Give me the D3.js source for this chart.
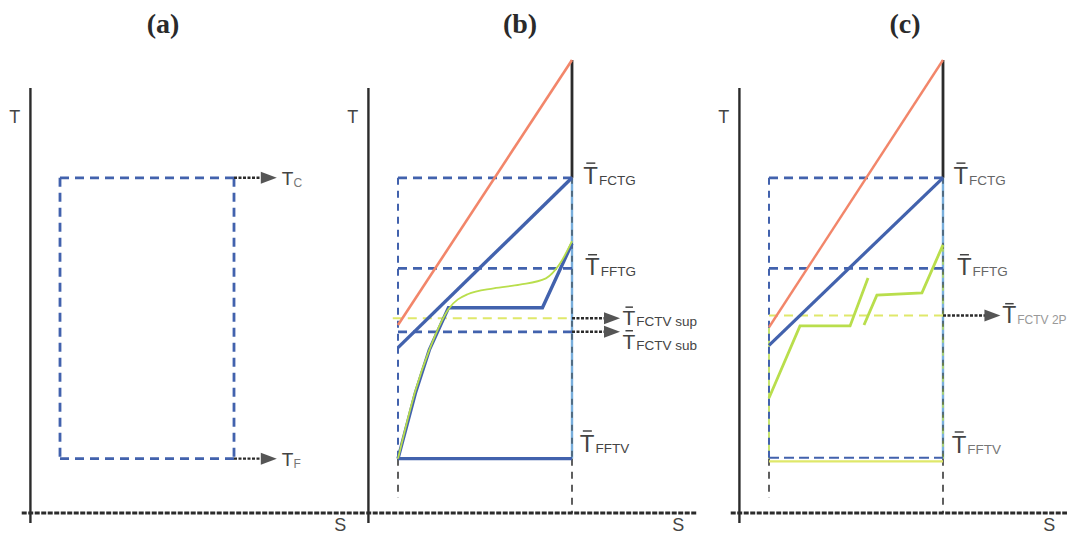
<!DOCTYPE html>
<html>
<head>
<meta charset="utf-8">
<script src="https://cdn.jsdelivr.net/npm/d3@7/dist/d3.min.js"></script>
<style>
  body { margin: 0; background: #fff; }
</style>
</head>
<body>
<div id="chart"></div>
<script>
// ---- data (S and T in arbitrary units: S=0 inlet, S=100 outlet) ----
const panelTitles = ["(a)", "(b)", "(c)"];

// (a) simple rectangle between hot and cold temperatures
const levelsA = [
  { sub: "C", t: 74 },
  { sub: "F", t: 12 }
];

// (b) mean temperatures
const levelsB = [
  { key: "FCTG", t: 74 },
  { key: "FFTG", t: 54 },
  { key: "FCTV sup", t: 43 },
  { key: "FCTV sub", t: 40 },
  { key: "FFTV", t: 12 }
];
const redB = [[0, 41.5], [100, 100]];
const blueB = [[0, 36.5], [100, 74]];
const processB = [[0, 12], [10, 26.5], [18, 36], [29, 45.3], [83, 45.3], [100, 59.5]];
const greenB = [[0, 12], [10, 27], [18, 36], [29, 45], [40, 48.3], [55, 49.6], [70, 50.4], [85, 51.8], [93, 55], [100, 60]];

// (c) two-phase case
const levelsC = [
  { key: "FCTG", t: 74 },
  { key: "FFTG", t: 54 },
  { key: "FCTV 2P", t: 43.6 },
  { key: "FFTV", t: 12 }
];
const redC = [[0, 41], [100, 100]];
const blueC = [[0, 37], [100, 74]];
const greenC1 = [[0, 25.4], [17.8, 41.3], [46.6, 41.3], [56.9, 51.9]];
const greenC2 = [[54.6, 41.5], [62, 48.1], [87.9, 48.6], [100, 59.2]];

// ---- layout ----
const W = 1067, H = 535;
const panelLeft = [60, 398, 769];   // pixel of S = 0 in each panel
const titleX = [163, 520, 905];
const sUnit = 1.74;

const colBlue = "#4262ad", colLightBlue = "#78aedc", colRed = "#f2866a",
      colGreen = "#b9de4c", colYellow = "#dfe86a", colInk = "#2b2b2b", colText = "#444";

const svg = d3.select("#chart")
  .append("svg")
  .attr("width", W)
  .attr("height", H)
  .style("font-family", "'Liberation Sans', Arial, sans-serif");

const y = d3.scaleLinear().domain([0, 100]).range([513, 60]);

function xScale(i) {
  const x0 = panelLeft[i];
  return d3.scaleLinear().domain([0, 100]).range([x0, x0 + 100 * sUnit]);
}

function lineGen(x, curve) {
  return d3.line()
    .x(function (d) { return x(d[0]); })
    .y(function (d) { return y(d[1]); })
    .curve(curve || d3.curveLinear);
}

function seg(g, x, a, b, style) {
  const l = g.append("line")
    .attr("x1", x(a[0])).attr("y1", y(a[1]))
    .attr("x2", x(b[0])).attr("y2", y(b[1]))
    .attr("stroke", style.stroke)
    .attr("stroke-width", style.width || 2);
  if (style.dash) l.attr("stroke-dasharray", style.dash);
  return l;
}

function arrow(g, x1, x2, yy) {
  g.append("line")
    .attr("x1", x1).attr("x2", x2 - 12).attr("y1", yy).attr("y2", yy)
    .attr("stroke", colInk).attr("stroke-width", 2.4)
    .attr("stroke-dasharray", "3,1.5");
  g.append("path")
    .attr("d", `M${x2 - 16},${yy - 6}L${x2},${yy}L${x2 - 16},${yy + 6}Z`)
    .attr("fill", "#555");
}

// T with overbar and subscript
function tLabel(g, xx, yy, sub, size, subSize, subColor) {
  const t = g.append("text")
    .attr("x", xx).attr("y", yy)
    .attr("fill", colText)
    .style("font-size", size + "px");
  t.append("tspan").text("T");
  t.append("tspan")
    .attr("dy", 1)
    .attr("dx", 1)
    .style("font-size", subSize + "px")
    .attr("fill", subColor || colText)
    .text(sub);
  g.append("line")
    .attr("x1", xx + 3).attr("x2", xx + size * 0.5)
    .attr("y1", yy - size * 0.86).attr("y2", yy - size * 0.86)
    .attr("stroke", colText).attr("stroke-width", 1.5);
}

function drawAxes(g, x) {
  // y axis
  g.append("line")
    .attr("x1", x(-17)).attr("x2", x(-17))
    .attr("y1", y(-2.2)).attr("y2", y(93.8))
    .attr("stroke", colInk).attr("stroke-width", 2.4);
  // x axis
  g.append("line")
    .attr("x1", x(-22)).attr("x2", x(172))
    .attr("y1", y(0)).attr("y2", y(0))
    .attr("stroke", colInk).attr("stroke-width", 3.2)
    .attr("stroke-dasharray", "5,1.5");
  g.append("text")
    .attr("x", x(-26)).attr("y", y(87.6) + 7)
    .attr("text-anchor", "middle")
    .attr("fill", colText)
    .style("font-size", "18px")
    .text("T");
  g.append("text")
    .attr("x", x(161)).attr("y", y(-2.2) + 8)
    .attr("text-anchor", "middle")
    .attr("fill", colText)
    .style("font-size", "18px")
    .text("S");
}

// titles
svg.selectAll(".title")
  .data(panelTitles)
  .join("text")
  .attr("class", "title")
  .attr("x", function (d, i) { return titleX[i]; })
  .attr("y", 33)
  .attr("text-anchor", "middle")
  .attr("fill", "#2a2a2a")
  .style("font-family", "'Liberation Serif', 'Times New Roman', serif")
  .style("font-weight", "bold")
  .style("font-size", "28px")
  .text(function (d) { return d; });

// ---------- panel (a) ----------
(function () {
  const x = xScale(0);
  const g = svg.append("g");
  drawAxes(g, x);
  const dash = "9,6";
  const tC = levelsA[0].t, tF = levelsA[1].t;
  seg(g, x, [0, tC], [0, tF], { stroke: colBlue, width: 2.8, dash: dash });
  seg(g, x, [100, tC], [100, tF], { stroke: colBlue, width: 2.8, dash: dash });
  levelsA.forEach(function (d) {
    seg(g, x, [0, d.t], [100, d.t], { stroke: colBlue, width: 2.8, dash: dash });
    arrow(g, x(100), x(124.6), y(d.t));
    const t = g.append("text")
      .attr("x", x(127.5)).attr("y", y(d.t) + 7)
      .attr("fill", colText)
      .style("font-size", "19px");
    t.append("tspan").text("T");
    t.append("tspan").attr("dy", 2).style("font-size", "12px").attr("fill", "#777").text(d.sub);
  });
})();

// ---------- panel (b) ----------
(function () {
  const x = xScale(1);
  const g = svg.append("g");
  drawAxes(g, x);
  const dash = "9,6";
  const lv = {};
  levelsB.forEach(function (d) { lv[d.key] = d.t; });

  // boundaries
  seg(g, x, [0, lv.FCTG], [0, lv.FFTV], { stroke: colBlue, width: 2, dash: "7,6" });
  seg(g, x, [0, lv.FFTV], [0, 3.3], { stroke: colInk, width: 1.5, dash: "7,6" });
  seg(g, x, [100, 100], [100, lv.FCTG], { stroke: colInk, width: 2.8 });
  seg(g, x, [100, lv.FCTG], [100, lv.FFTV], { stroke: colLightBlue, width: 2.4 });
  seg(g, x, [100, lv.FCTG], [100, lv.FFTV], { stroke: colInk, width: 1, dash: "6,7" });
  seg(g, x, [100, lv.FFTV], [100, 0], { stroke: colInk, width: 1.5, dash: "7,6" });

  // levels
  seg(g, x, [0, lv.FCTG], [100, lv.FCTG], { stroke: colBlue, width: 2.8, dash: dash });
  seg(g, x, [0, lv.FFTG], [100, lv.FFTG], { stroke: colBlue, width: 2.8, dash: dash });
  seg(g, x, [-3, lv["FCTV sup"]], [100, lv["FCTV sup"]], { stroke: colYellow, width: 2, dash: dash });
  seg(g, x, [0, lv["FCTV sub"]], [100, lv["FCTV sub"]], { stroke: colBlue, width: 2.8, dash: dash });
  seg(g, x, [0, lv.FFTV], [100, lv.FFTV], { stroke: colBlue, width: 3.4 });

  // process lines
  g.append("path").datum(redB).attr("d", lineGen(x))
    .attr("fill", "none").attr("stroke", colRed).attr("stroke-width", 2.6);
  g.append("path").datum(blueB).attr("d", lineGen(x))
    .attr("fill", "none").attr("stroke", colBlue).attr("stroke-width", 3.4);
  g.append("path").datum(processB).attr("d", lineGen(x))
    .attr("fill", "none").attr("stroke", colBlue).attr("stroke-width", 3.4);
  g.append("path").datum(greenB).attr("d", lineGen(x, d3.curveMonotoneX))
    .attr("fill", "none").attr("stroke", colGreen).attr("stroke-width", 1.8);

  // arrows + labels
  arrow(g, x(100), x(127.6), y(lv["FCTV sup"]));
  arrow(g, x(100), x(127.6), y(lv["FCTV sub"]));
  tLabel(g, x(106.5), y(lv.FCTG) + 6, "FCTG", 24, 13.5);
  tLabel(g, x(107.5), y(lv.FFTG) + 7, "FFTG", 24, 13.5);
  tLabel(g, x(129), y(lv["FCTV sup"]) + 7, "FCTV sup", 21, 13.5);
  tLabel(g, x(129), y(lv["FCTV sub"]) + 17, "FCTV sub", 21, 13.5);
  tLabel(g, x(104.5), y(lv.FFTV) - 7, "FFTV", 24, 13.5);
})();

// ---------- panel (c) ----------
(function () {
  const x = xScale(2);
  const g = svg.append("g");
  drawAxes(g, x);
  const dash = "9,6";
  const lv = {};
  levelsC.forEach(function (d) { lv[d.key] = d.t; });

  // boundaries
  seg(g, x, [0, lv.FFTV], [0, 41], { stroke: colGreen, width: 1.6 });
  seg(g, x, [0, lv.FCTG], [0, lv.FFTV], { stroke: colBlue, width: 2, dash: "7,6" });
  seg(g, x, [0, lv.FFTV], [0, 3.3], { stroke: colInk, width: 1.5, dash: "7,6" });
  seg(g, x, [100, 100], [100, lv.FCTG], { stroke: colInk, width: 2.8 });
  seg(g, x, [100, lv.FCTG], [100, lv.FFTV], { stroke: colLightBlue, width: 2.4 });
  seg(g, x, [100, 59], [100, lv.FFTV], { stroke: colGreen, width: 1.4, dash: "6,7" });
  seg(g, x, [100, lv.FCTG], [100, lv.FFTV], { stroke: colInk, width: 1, dash: "6,7" });
  seg(g, x, [100, lv.FFTV], [100, 0], { stroke: colInk, width: 1.5, dash: "7,6" });

  // levels
  seg(g, x, [0, lv.FCTG], [100, lv.FCTG], { stroke: colBlue, width: 2.8, dash: dash });
  seg(g, x, [0, lv.FFTG], [100, lv.FFTG], { stroke: colBlue, width: 2.8, dash: dash });
  seg(g, x, [0, lv["FCTV 2P"]], [100, lv["FCTV 2P"]], { stroke: colYellow, width: 2.2, dash: dash });
  seg(g, x, [0, lv.FFTV - 0.6], [100, lv.FFTV - 0.6], { stroke: colYellow, width: 2.4 });
  seg(g, x, [0, lv.FFTV + 0.2], [100, lv.FFTV + 0.2], { stroke: colBlue, width: 2, dash: "10,5" });

  // process lines
  g.append("path").datum(redC).attr("d", lineGen(x))
    .attr("fill", "none").attr("stroke", colRed).attr("stroke-width", 2.4);
  g.append("path").datum(blueC).attr("d", lineGen(x))
    .attr("fill", "none").attr("stroke", colBlue).attr("stroke-width", 3.2);
  [greenC1, greenC2].forEach(function (pts) {
    g.append("path").datum(pts).attr("d", lineGen(x))
      .attr("fill", "none").attr("stroke", colGreen).attr("stroke-width", 2.8);
  });

  // arrow + labels
  arrow(g, x(100), x(133), y(lv["FCTV 2P"]));
  tLabel(g, x(106), y(lv.FCTG) + 6, "FCTG", 24, 13.5, "#666");
  tLabel(g, x(108), y(lv.FFTG) + 7, "FFTG", 24, 13.5, "#666");
  tLabel(g, x(134), y(lv["FCTV 2P"]) + 8, "FCTV 2P", 23, 12, "#999");
  tLabel(g, x(105), y(lv.FFTV) - 6, "FFTV", 24, 13.5, "#777");
})();
</script>
</body>
</html>
